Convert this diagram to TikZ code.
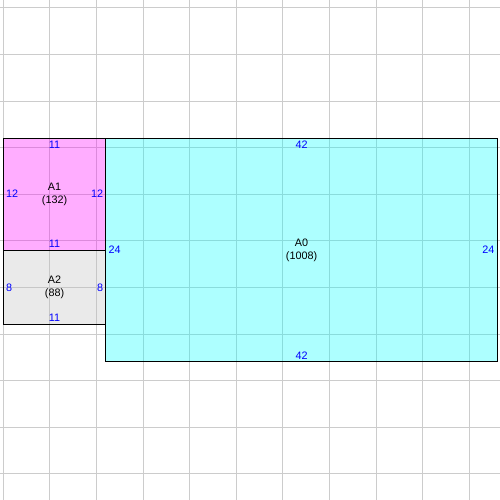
\documentclass[tikz,border=0pt]{standalone}
\usepackage{fontspec}
\setmainfont{Liberation Sans}
\usepackage{tikz}
\usetikzlibrary{positioning}
\newcommand{\cellu}{0.2cm}
\definecolor{fillcyan}{RGB}{0,255,255}
\definecolor{fillmag}{RGB}{255,0,255}
\definecolor{fillgray}{RGB}{191,191,191}

\begin{document}
\begin{tikzpicture}[x=\cellu, y=\cellu,
                font=\fontsize{6.6}{7.6}\selectfont,
                gridln/.style={draw=black!20, line width=0.6pt},
                blk/.style n args={3}{draw=black, line width=0.6pt,
                    fill=#1, fill opacity=0.32, text opacity=1,
                    minimum width=#2*\cellu,
                    minimum height=#3*\cellu,
                    inner sep=0pt, outer sep=0pt,
                    rectangle, align=center},
                dim/.style={text=blue, inner sep=1.5pt}]
                \useasboundingbox (-0.354,-38.81) rectangle (53.29,14.84);
                % grid
                \foreach \gx in {0,5,...,50} \draw[gridln] (\gx,-39) -- (\gx,15);
                \foreach \gy in {-36,-31,...,14} \draw[gridln] (-1,\gy) -- (54,\gy);
                % blocks
                \node[blk={fillmag}{11}{12}] (a1) at (5.5,-6) {A1\\(132)};
                \node[blk={fillgray}{11}{8}] (a2) at (5.5,-16) {A2\\(88)};
                \node[blk={fillcyan}{42}{24}] (a0) at (32,-12) {A0\\(1008)};
                % sizes
                \node[dim, below=0pt of a1.north] (a1t) {11};
                \node[dim, above=0pt of a1.south] (a1b) {11};
                \node[dim, right=0pt of a1.west] (a1l) {12};
                \node[dim, left=0pt of a1.east] (a1r) {12};
                \node[dim, above=0pt of a2.south] (a2b) {11};
                \node[dim, right=0pt of a2.west] (a2l) {8};
                \node[dim, left=0pt of a2.east] (a2r) {8};
                \node[dim, below=0pt of a0.north] (a0t) {42};
                \node[dim, above=0pt of a0.south] (a0b) {42};
                \node[dim, right=0pt of a0.west] (a0l) {24};
                \node[dim, left=0pt of a0.east] (a0r) {24};
            \end{tikzpicture}
\end{document}
